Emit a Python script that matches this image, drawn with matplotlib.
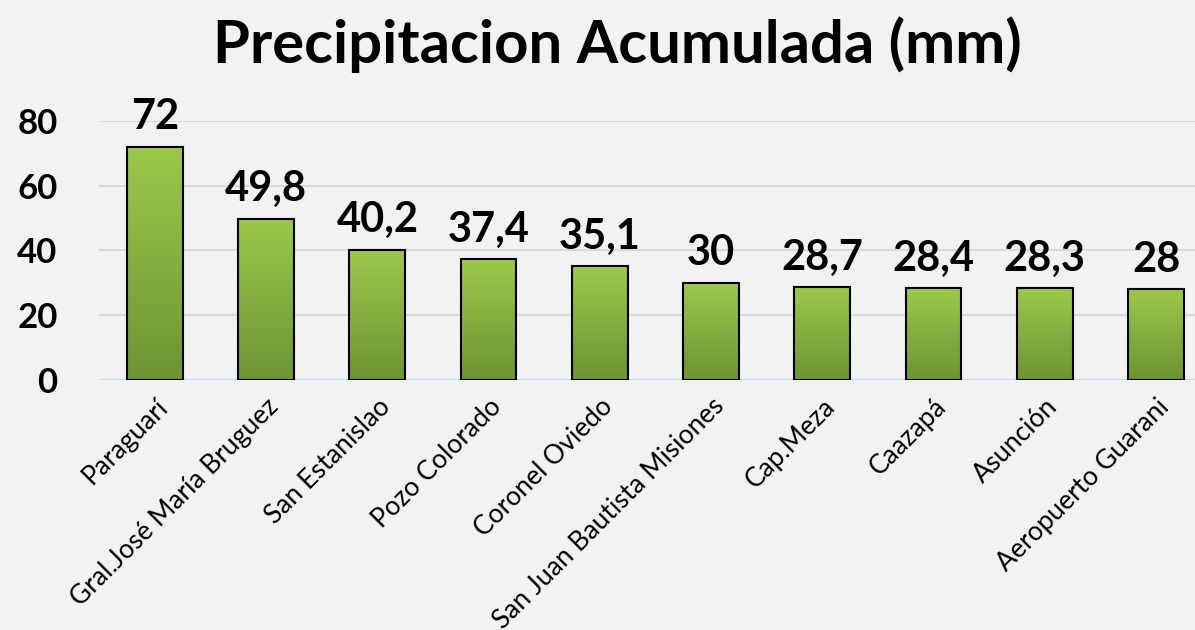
import numpy as np
import matplotlib
matplotlib.use("Agg")
import matplotlib.pyplot as plt
from matplotlib.colors import LinearSegmentedColormap

stations = ["Paraguarí", "Gral.José María Bruguez", "San Estanislao", "Pozo Colorado",
            "Coronel Oviedo", "San Juan Bautista Misiones", "Cap.Meza", "Caazapá",
            "Asunción", "Aeropuerto Guarani"]
precip = [72, 49.8, 40.2, 37.4, 35.1, 30, 28.7, 28.4, 28.3, 28]
yticks = [0, 20, 40, 60, 80]

plt.rcParams['font.family'] = ['Lato', 'DejaVu Sans']

fig = plt.figure(figsize=(11.95, 6.3), dpi=100, facecolor='#F2F2F2')
ax = fig.add_axes([0.083, 0.397, 0.917, 0.411])
ax.set_facecolor('#F2F2F2')

x = np.arange(len(precip))
width = 0.5
cmap = LinearSegmentedColormap.from_list('g', ['#6E9334', '#9DC84B'])
grad = np.linspace(0, 1, 256).reshape(-1, 1)

for xi, v in zip(x, precip):
    ax.imshow(grad, cmap=cmap, origin='lower', aspect='auto',
              extent=(xi - width / 2, xi + width / 2, 0, v), zorder=2)
    ax.text(xi, v + 3.2, f"{v:g}".replace('.', ','), ha='center', va='bottom',
            fontsize=30, fontweight='bold', zorder=4, clip_on=False)

ax.bar(x, precip, width=width, facecolor='none', edgecolor='black', linewidth=1.5, zorder=3)

ax.set_xlim(-0.5, 9.35)
ax.set_ylim(0, 80)
ax.set_yticks(yticks)
ax.set_yticklabels([str(t) for t in yticks], fontsize=25, fontweight='bold')
ax.yaxis.grid(True, color='#D9D9D9', linewidth=1.5, zorder=0)
ax.axhline(0, color='#C5D9F1', linewidth=1.5, zorder=1)
ax.set_axisbelow(True)

ax.set_xticks(x)
ax.set_xticklabels(stations, rotation=45, ha='right', rotation_mode='anchor', fontsize=19)
ax.tick_params(axis='both', length=0)
ax.tick_params(axis='y', pad=30)
ax.tick_params(axis='x', pad=10)
for s in ax.spines.values():
    s.set_visible(False)

fig.text(0.517, 0.929, "Precipitacion Acumulada (mm)", ha='center', va='center',
         fontsize=43, fontweight='bold')

fig.savefig("out.png", dpi=100, facecolor=fig.get_facecolor())
